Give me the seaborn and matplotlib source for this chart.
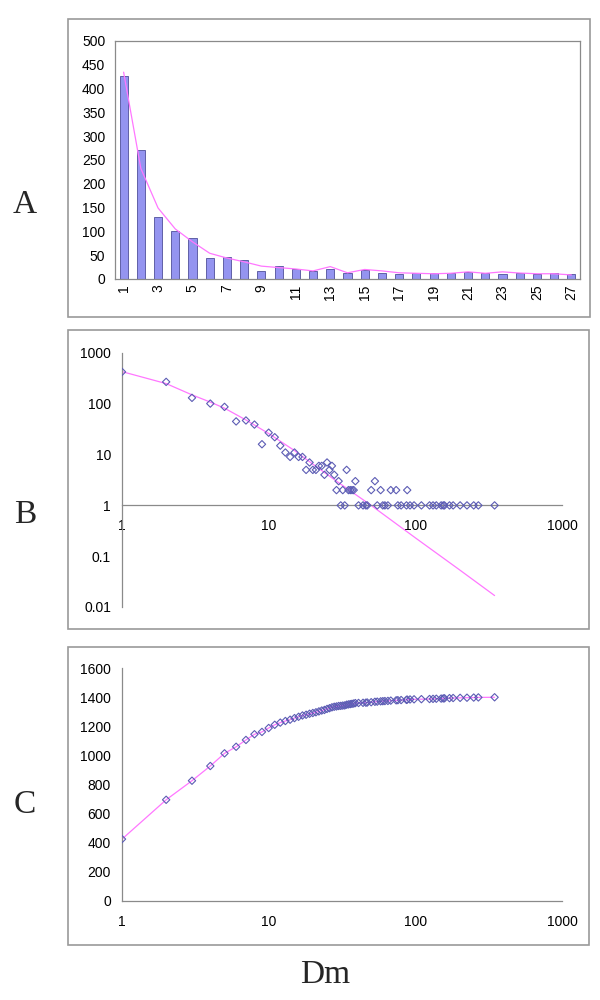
import matplotlib
matplotlib.use("Agg")
import matplotlib.pyplot as plt
import seaborn as sns
import pandas as pd
from matplotlib.patches import Rectangle

# ---------------- data ----------------
# Panel A: bar chart with trend line
a_categories = list(range(1, 28))
a_counts = [425, 270, 130, 100, 87, 45, 47, 40, 16, 27, 22, 16, 21, 12, 19,
            13, 11, 12, 12, 12, 15, 12, 11, 13, 11, 13, 10]
a_trend = [434, 232, 149, 105, 78, 54, 44, 36, 27, 24, 21, 17, 26, 13, 20,
           17, 13, 12, 11, 12, 15, 12, 15, 12.5, 11, 11, 8.5]
a_yticks = [0, 50, 100, 150, 200, 250, 300, 350, 400, 450, 500]
a_xtick_values = [1, 3, 5, 7, 9, 11, 13, 15, 17, 19, 21, 23, 25, 27]
a_xtick_labels = ["1", "3", "5", "7", "9", "11", "13", "15", "17", "19",
                  "21", "23", "25", "27"]

# Panel B: counts per Dm (log-log) with fitted curve
dm_values = [1, 2, 3, 4, 5, 6, 7, 8, 9, 10, 11, 12, 13, 14, 15, 16, 17, 18,
             19, 20, 21, 22, 23, 24, 25, 26, 27, 28, 29, 30, 31, 32, 33, 34,
             35, 36, 37, 38, 39, 41, 44, 46, 47, 50, 53, 55, 58, 60, 62, 65,
             68, 74, 76, 80, 87, 88, 92, 98, 110, 125, 132, 139, 150, 155,
             158, 171, 181, 202, 225, 250, 269, 347]
dm_counts = [425, 270, 131, 101, 87, 45, 47, 39, 16, 27, 22, 15, 11, 9, 11,
             9, 9, 5, 7, 5, 5, 6, 6, 4, 7, 5, 6, 4, 2, 3, 1, 2, 1, 5, 2, 2,
             2, 2, 3, 1, 1, 1, 1, 2, 3, 1, 2, 1, 1, 1, 2, 2, 1, 1, 1, 2, 1,
             1, 1, 1, 1, 1, 1, 1, 1, 1, 1, 1, 1, 1, 1, 1]
fit_dm = [1, 2, 3, 4, 5, 7, 10, 15, 20, 30, 50, 100, 200, 347]
fit_counts = [430, 250, 150, 108, 82, 48, 26, 12, 6.5, 2.8, 1.0, 0.23,
              0.054, 0.0168]
b_yticks = [0.01, 0.1, 1, 10, 100, 1000]
b_ytick_labels = ["0.01", "0.1", "1", "10", "100", "1000"]
log_xticks = [1, 10, 100, 1000]
log_xtick_labels = ["1", "10", "100", "1000"]

# Panel C: cumulative counts
c_cumulative = [425, 695, 826, 927, 1014, 1059, 1106, 1145, 1161, 1188, 1210,
                1225, 1236, 1245, 1256, 1265, 1274, 1279, 1286, 1291, 1296,
                1302, 1308, 1312, 1319, 1324, 1330, 1334, 1336, 1339, 1340,
                1342, 1343, 1348, 1350, 1352, 1354, 1356, 1359, 1360, 1361,
                1362, 1363, 1365, 1368, 1369, 1371, 1372, 1373, 1374, 1376,
                1378, 1379, 1380, 1381, 1383, 1384, 1385, 1386, 1387, 1388,
                1389, 1390, 1391, 1392, 1393, 1394, 1395, 1396, 1397, 1398,
                1399]
c_yticks = [0, 200, 400, 600, 800, 1000, 1200, 1400, 1600]

panel_letters = ["A", "B", "C"]
x_title = "Dm"

# ---------------- style ----------------
sns.set_theme(style="white")
plt.rcParams["font.family"] = ["Liberation Sans", "DejaVu Sans"]

AXIS_GRAY = "#8a8a8a"
FRAME_GRAY = "#9a9a9a"
PINK = "#ff77ff"
BAR_FILL = "#9494f0"
BAR_EDGE = "#50509a"
MARK_EDGE = "#5c5cb4"
TICK_FS = 10

fig = plt.figure(figsize=(6, 10), dpi=100)

def px_axes(left, top, right, bottom):
    return fig.add_axes([left / 600, 1 - bottom / 1000,
                         (right - left) / 600, (bottom - top) / 1000])

def style_axes(ax, box=False):
    for name, sp in ax.spines.items():
        sp.set_color(AXIS_GRAY)
        sp.set_linewidth(0.9)
        if not box and name in ("top", "right"):
            sp.set_visible(False)
    ax.tick_params(axis="both", which="both", colors=AXIS_GRAY,
                   labelcolor="black", labelsize=TICK_FS, width=0.8,
                   direction="out")
    ax.set_facecolor("white")

# panel frames
for (x0, y0, x1, y1) in [(68, 19, 590, 317), (68, 330, 589, 629), (68, 647, 589, 945)]:
    fig.add_artist(Rectangle((x0 / 600, 1 - y1 / 1000), (x1 - x0) / 600,
                             (y1 - y0) / 1000, transform=fig.transFigure,
                             fill=False, edgecolor=FRAME_GRAY, linewidth=1.2))

# ---------------- Panel A ----------------
axA = px_axes(115, 40.7, 580, 279)
dfA = pd.DataFrame({"cat": a_categories, "count": a_counts, "trend": a_trend})
sns.barplot(data=dfA, x="cat", y="count", native_scale=True, width=0.47,
            color=BAR_FILL, edgecolor=BAR_EDGE, linewidth=0.6, saturation=1,
            ax=axA)
sns.lineplot(data=dfA, x="cat", y="trend", color=PINK, linewidth=0.9,
             estimator=None, ax=axA)
axA.set_xlim(0.5, 27.5)
axA.set_ylim(0, 500)
axA.set_yticks(a_yticks)
axA.set_yticklabels([str(v) for v in a_yticks])
axA.set_xticks(a_xtick_values)
axA.set_xticklabels(a_xtick_labels, rotation=90)
axA.set_xticks([c + 0.5 for c in [0] + a_categories], minor=True)
style_axes(axA, box=True)
axA.tick_params(axis="x", which="major", length=0, pad=4)
axA.tick_params(axis="x", which="minor", length=4)
axA.tick_params(axis="y", length=4, pad=3)
axA.set_xlabel("")
axA.set_ylabel("")

# ---------------- Panel B ----------------
axB = px_axes(122, 353, 562, 607)
axB.set_xscale("log")
axB.set_yscale("log")
dfB = pd.DataFrame({"dm": dm_values, "count": dm_counts})
dfFit = pd.DataFrame({"dm": fit_dm, "fit": fit_counts})
sns.lineplot(data=dfFit, x="dm", y="fit", color=PINK, linewidth=0.9,
             estimator=None, ax=axB)
sns.scatterplot(data=dfB, x="dm", y="count", marker="D", s=14,
                linewidth=0.8, ax=axB, zorder=3)
ptsB = axB.collections[-1]
ptsB.set_facecolor("none")
ptsB.set_edgecolor(MARK_EDGE)
axB.set_xlim(1, 1000)
axB.set_ylim(0.01, 1000)
axB.set_xticks(log_xticks)
axB.set_xticklabels(log_xtick_labels)
axB.set_yticks(b_yticks)
axB.set_yticklabels(b_ytick_labels)
axB.minorticks_off()
style_axes(axB)
axB.spines["bottom"].set_position(("data", 1))
axB.tick_params(axis="x", length=4, pad=6)
axB.tick_params(axis="y", length=4, pad=4)
axB.set_xlabel("")
axB.set_ylabel("")

# ---------------- Panel C ----------------
axC = px_axes(122, 668, 562, 901)
axC.set_xscale("log")
dfC = pd.DataFrame({"dm": dm_values, "cum": c_cumulative})
sns.lineplot(data=dfC, x="dm", y="cum", color=PINK, linewidth=0.9,
             estimator=None, ax=axC)
sns.scatterplot(data=dfC, x="dm", y="cum", marker="D", s=14,
                linewidth=0.8, ax=axC, zorder=3)
ptsC = axC.collections[-1]
ptsC.set_facecolor("none")
ptsC.set_edgecolor(MARK_EDGE)
axC.set_xlim(1, 1000)
axC.set_ylim(0, 1600)
axC.set_xticks(log_xticks)
axC.set_xticklabels(log_xtick_labels)
axC.set_yticks(c_yticks)
axC.set_yticklabels([str(v) for v in c_yticks])
axC.minorticks_off()
style_axes(axC)
axC.tick_params(axis="x", length=4, pad=6)
axC.tick_params(axis="y", length=4, pad=4)
axC.set_xlabel("")
axC.set_ylabel("")

# ---------------- labels ----------------
for letter, ycen in zip(panel_letters, [205, 515, 805]):
    fig.text(25 / 600, 1 - ycen / 1000, letter, ha="center", va="center",
             fontsize=24, family=["Liberation Serif", "DejaVu Serif"])
fig.text(325 / 600, 1 - 975 / 1000, x_title, ha="center", va="center",
         fontsize=24, family=["Liberation Serif", "DejaVu Serif"])

fig.savefig("out.png", dpi=100, facecolor="white")
